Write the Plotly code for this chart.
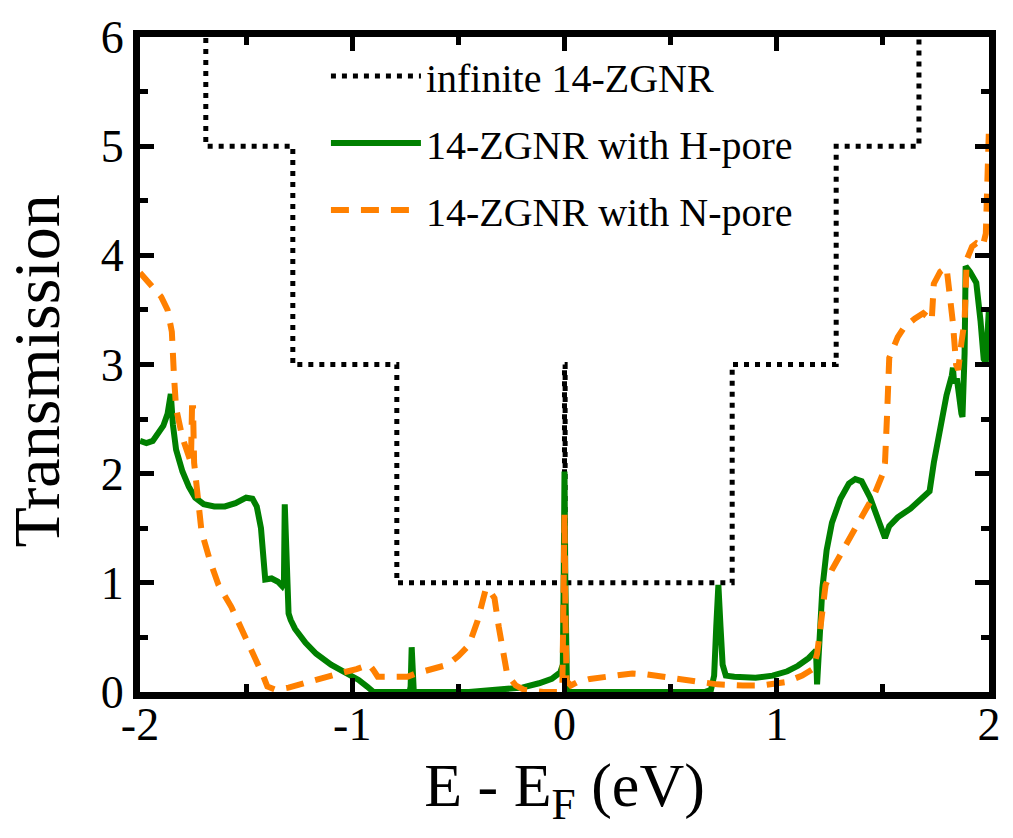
import plotly.graph_objects as go

# ---- data ----
x_inf = [-2.0, -1.69, -1.28, -0.79, 0.0, 0.003, 0.79, 1.28, 1.67, 2.0]
y_inf = [7.0, 5.0, 3.0, 1.0, 3.0, 1.0, 3.0, 5.0, 7.0, 7.0]

x_h = [-2.00, -1.97, -1.94, -1.91, -1.89, -1.87, -1.855, -1.845, -1.83, -1.80, -1.77, -1.74,
       -1.70, -1.65, -1.60, -1.55, -1.50, -1.47, -1.45, -1.43, -1.415, -1.41, -1.38, -1.35,
       -1.33, -1.322, -1.318, -1.312, -1.305, -1.30, -1.29, -1.27, -1.22, -1.17, -1.10, -1.03,
       -0.97, -0.93, -0.90, -0.73, -0.725, -0.72, -0.715, -0.71, -0.45, -0.31, -0.20, -0.12,
       -0.06, -0.02, -0.008, -0.004, 0.0, 0.004, 0.008, 0.012, 0.02, 0.66, 0.69, 0.705,
       0.715, 0.725, 0.735, 0.745, 0.76, 0.80, 0.90, 0.98, 1.05, 1.10, 1.15, 1.185,
       1.19, 1.205, 1.215, 1.235, 1.26, 1.30, 1.34, 1.37, 1.40, 1.44, 1.48, 1.51,
       1.53, 1.57, 1.63, 1.68, 1.72, 1.74, 1.77, 1.80, 1.825, 1.83, 1.835, 1.85,
       1.87, 1.875, 1.885, 1.89, 1.91, 1.94, 1.96, 1.975, 1.985, 1.995, 2.00]
y_h = [2.30, 2.28, 2.30, 2.40, 2.44, 2.55, 2.73, 2.45, 2.22, 2.02, 1.88, 1.78,
       1.72, 1.70, 1.70, 1.73, 1.78, 1.77, 1.70, 1.50, 1.20, 1.03, 1.04, 1.01,
       0.97, 1.00, 1.72, 1.30, 0.85, 0.72, 0.66, 0.58, 0.45, 0.35, 0.25, 0.18,
       0.11, 0.05, 0.00, 0.00, 0.05, 0.41, 0.05, 0.00, 0.00, 0.02, 0.04, 0.08,
       0.12, 0.18, 0.25, 1.00, 2.02, 1.00, 0.72, 0.00, 0.00, 0.00, 0.02, 0.15,
       0.60, 0.98, 0.60, 0.25, 0.15, 0.14, 0.13, 0.15, 0.19, 0.24, 0.31, 0.38,
       0.07, 0.70, 0.95, 1.30, 1.55, 1.77, 1.91, 1.95, 1.93, 1.78, 1.58, 1.41,
       1.52, 1.60, 1.68, 1.76, 1.84, 2.10, 2.45, 2.72, 2.90, 2.97, 2.85, 2.85,
       2.55, 2.52, 3.10, 3.90, 3.85, 3.75, 3.40, 3.05, 3.02, 3.50, 3.52]

x_n = [-2.00, -1.96, -1.92, -1.90, -1.87, -1.85, -1.84, -1.83, -1.80, -1.77, -1.76, -1.755,
       -1.75, -1.745, -1.73, -1.71, -1.67, -1.63, -1.57, -1.52, -1.48, -1.45, -1.42, -1.40,
       -1.36, -1.30, -1.18, -1.08, -0.98, -0.92, -0.90, -0.88, -0.80, -0.74, -0.70, -0.60,
       -0.55, -0.50, -0.45, -0.41, -0.385, -0.37, -0.35, -0.33, -0.31, -0.29, -0.27, -0.23,
       -0.19, -0.10, -0.03, -0.01, -0.005, 0.0, 0.005, 0.01, 0.03, 0.06, 0.12, 0.23,
       0.32, 0.39, 0.50, 0.62, 0.72, 0.84, 0.93, 1.04, 1.12, 1.17, 1.19, 1.20,
       1.215, 1.23, 1.26, 1.29, 1.33, 1.37, 1.42, 1.46, 1.50, 1.51, 1.52, 1.53,
       1.57, 1.60, 1.65, 1.69, 1.72, 1.73, 1.74, 1.77, 1.80, 1.82, 1.83, 1.845,
       1.855, 1.87, 1.885, 1.895, 1.92, 1.94, 1.97, 1.985, 1.99, 2.00]
y_n = [3.84, 3.75, 3.68, 3.62, 3.50, 3.30, 2.90, 2.60, 2.33, 2.15, 2.10, 2.60,
       2.60, 2.10, 1.80, 1.47, 1.20, 0.98, 0.78, 0.58, 0.42, 0.30, 0.15, 0.05,
       0.02, 0.04, 0.11, 0.16, 0.21, 0.25, 0.20, 0.14, 0.14, 0.14, 0.17, 0.22,
       0.25, 0.33, 0.43, 0.65, 0.85, 0.95, 0.92, 0.86, 0.60, 0.35, 0.16, 0.06,
       0.02, 0.00, 0.00, 0.05, 0.60, 1.63, 0.60, 0.10, 0.06, 0.09, 0.12, 0.15,
       0.17, 0.16, 0.13, 0.09, 0.07, 0.06, 0.06, 0.09, 0.15, 0.21, 0.35, 0.50,
       0.80, 0.98, 1.12, 1.22, 1.37, 1.50, 1.65, 1.81, 2.00, 2.10, 2.55, 3.06,
       3.25, 3.34, 3.42, 3.47, 3.42, 3.40, 3.74, 3.85, 3.89, 3.60, 3.38, 3.00,
       2.95, 3.20, 3.40, 3.96, 4.08, 4.11, 4.08, 4.20, 4.60, 5.18]

x_ticks = [-2, -1, 0, 1, 2]
y_ticks = [0, 1, 2, 3, 4, 5, 6]

names = ["infinite 14-ZGNR", "14-ZGNR with H-pore", "14-ZGNR with N-pore"]
x_title = "E - E<sub>F</sub> (eV)"
y_title = "Transmission"

FONT = "Liberation Serif, Times New Roman, serif"

fig = go.Figure()
fig.add_trace(go.Scatter(x=x_inf, y=y_inf, mode="lines", name=names[0], legendgroup="a",
                         line=dict(color="black", width=5, dash="5px,6px", shape="hv")))
fig.add_trace(go.Scatter(x=x_h, y=y_h, mode="lines", name=names[1], legendgroup="b",
                         line=dict(color="#008000", width=6)))
fig.add_trace(go.Scatter(x=x_n, y=y_n, mode="lines", name=names[2], legendgroup="c",
                         line=dict(color="#FF8000", width=6, dash="18px,12px")))

axis_common = dict(
    showline=True, linecolor="black", linewidth=7, mirror="ticks",
    ticks="inside", ticklen=14, tickwidth=5, tickcolor="black",
    showgrid=False, zeroline=False,
    tickfont=dict(family=FONT, size=46, color="black"),
)

fig.update_xaxes(range=[-2, 2], tickvals=x_ticks, ticktext=[str(v) for v in x_ticks],
                 minor=dict(dtick=0.5, ticks="inside", ticklen=8, tickwidth=5, tickcolor="black", showgrid=False),
                 ticklabelstandoff=-14,
                 title=dict(text=x_title, font=dict(family=FONT, size=62, color="black"), standoff=16),
                 **axis_common)
fig.update_yaxes(range=[0, 6], tickvals=y_ticks, ticktext=[str(v) for v in y_ticks],
                 minor=dict(dtick=0.5, ticks="inside", ticklen=8, tickwidth=5, tickcolor="black", showgrid=False),
                 **axis_common)

fig.add_annotation(text=y_title, xref="paper", yref="paper", x=-0.123, y=0.49,
                   xanchor="center", yanchor="middle", textangle=-90, showarrow=False,
                   font=dict(family=FONT, size=66, color="black"))

fig.update_layout(
    width=1013, height=838,
    margin=dict(l=140, r=16, t=35, b=146),
    plot_bgcolor="white", paper_bgcolor="white",
    showlegend=True,
    legend=dict(x=0.219, y=0.99, xanchor="left", yanchor="top",
                bgcolor="rgba(0,0,0,0)", borderwidth=0,
                font=dict(family=FONT, size=40, color="black"),
                itemwidth=90, traceorder="grouped", tracegroupgap=12),
)

fig.write_html("out.html")
